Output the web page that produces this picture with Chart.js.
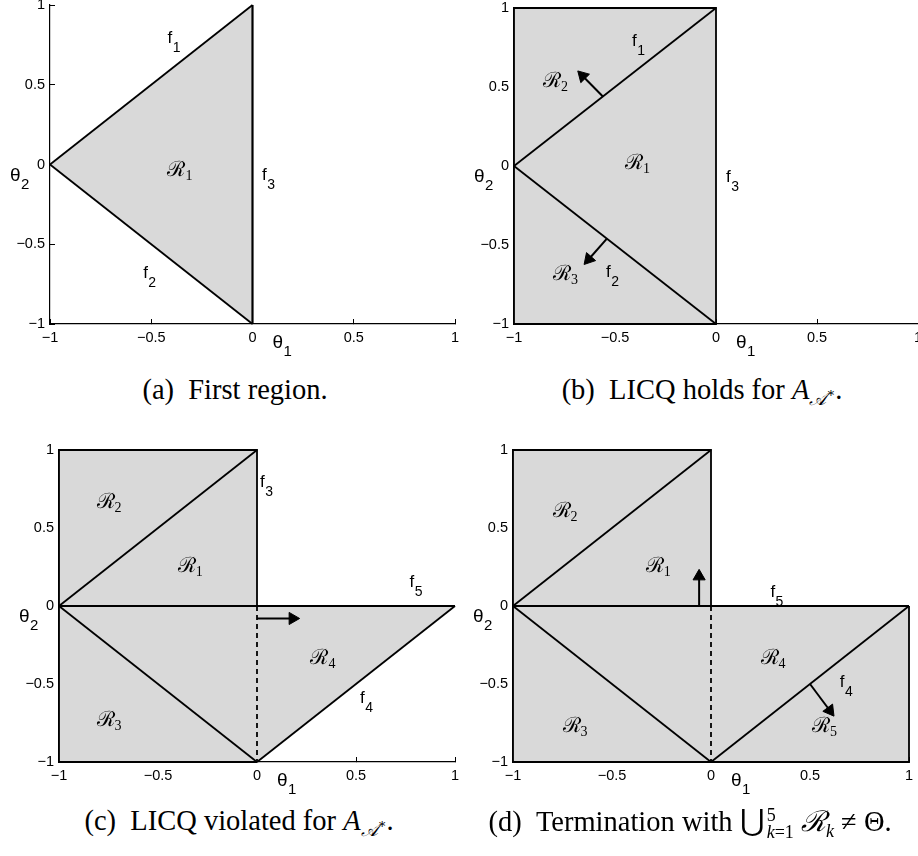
<!DOCTYPE html>
<html>
<head>
<meta charset="utf-8">
<title>Regions in the parameter space</title>
<script src="https://cdn.jsdelivr.net/npm/chart.js@4.4.1/dist/chart.umd.min.js"></script>
<style>
  html, body { margin: 0; padding: 0; background: #fff; }
  body { width: 918px; height: 856px; overflow: hidden; position: relative; }
  canvas.panel { position: absolute; }
  .cap {
    position: absolute; white-space: nowrap; color: #000;
    font-family: "Liberation Serif", "DejaVu Serif", serif; font-size: 28.5px; line-height: 30px;
    transform: translateX(-50%);
  }
  .cap i { font-style: italic; }
  .cap .sub { font-size: 18px; position: relative; top: 6px; }
  .cap .sub .sup { font-size: 13px; position: relative; top: -8px; }
  .cap .scr { font-family: "DejaVu Serif", serif; font-style: italic; }
  .cap .cup { font-family: "DejaVu Serif", serif; font-size: 30px; }
  .cap .lim { display: inline-block; vertical-align: middle; font-size: 18px; line-height: 17px; margin-left: 2px; }
  .cap .lim span { display: block; }
</style>
</head>
<body>
<canvas id="chartA" class="panel"></canvas>
<canvas id="chartB" class="panel"></canvas>
<canvas id="chartC" class="panel"></canvas>
<canvas id="chartD" class="panel"></canvas>

<div class="cap" style="left:235px; top:375px">(a)&ensp;First region.</div>
<div class="cap" style="left:702px; top:375px">(b)&ensp;LICQ holds for <i>A</i><span class="sub"><span class="scr">𝒜</span><span class="sup">∗</span></span>.</div>
<div class="cap" style="left:239px; top:806px">(c)&ensp;LICQ violated for <i>A</i><span class="sub"><span class="scr">𝒜</span><span class="sup">∗</span></span>.</div>
<div class="cap" style="left:690px; top:806px">(d)&ensp;Termination with <span class="cup">⋃</span><span class="lim"><span>5</span><span><i>k</i>=1</span></span> <span class="scr">ℛ</span><span class="sub"><i>k</i></span> ≠ Θ.</div>

<script>
// ejes
const tickValues = [-1, -0.5, 0, 0.5, 1];
const tickLabels = ['\u22121', '\u22120.5', '0', '0.5', '1'];

// facetas (vertices theta1, theta2)
const facetF1 = [[-1, 0], [0, 1]];
const facetF2 = [[-1, 0], [0, -1]];
const facetF3 = [[0, -1], [0, 1]];
const facetF4 = [[0, -1], [1, 0]];
const facetF5 = [[-1, 0], [1, 0]];
const facetF3Dashed = [[0, 0], [0, -1]];

// bordes de las regiones
const outlineB = [[-1, -1], [-1, 1], [0, 1], [0, -1], [-1, -1]];
const outlineUpper = [[-1, -1], [-1, 1], [0, 1], [0, 0]];
const outlineBottomC = [[-1, -1], [0, -1]];
const outlineRightD = [[1, 0], [1, -1], [-1, -1]];

// zonas sombreadas
const shadeTopB = [[-1, 1], [0, 1]];
const shadeUpper = [[-1, 1], [0, 1], [0, 0], [1, 0]];
const shadeLowerC = [[-1, -1], [0, -1], [1, 0]];

// flechas (inicio, centro de la punta)
const arrowB1 = [[-0.56, 0.44], [-0.66, 0.57]];
const arrowB2 = [[-0.54, -0.46], [-0.63, -0.59]];
const arrowC = [[0.0, -0.08], [0.18, -0.08]];
const arrowD1 = [[-0.06, 0], [-0.06, 0.19]];
const arrowD2 = [[0.5, -0.5], [0.6, -0.67]];

// etiquetas: tipo, subindice, theta1, theta2
const notesA = [['f', '1', -0.42, 0.76], ['f', '2', -0.54, -0.71], ['f', '3', 0.047, -0.10], ['R', '1', -0.42, -0.07]];
const notesB = [['f', '1', -0.416, 0.76], ['R', '2', -0.856, 0.50], ['R', '1', -0.45, -0.02],
                ['f', '3', 0.05, -0.10], ['R', '3', -0.807, -0.72], ['f', '2', -0.545, -0.705]];
const notesC = [['f', '3', 0.015, 0.76], ['R', '2', -0.81, 0.63], ['R', '1', -0.40, 0.22], ['f', '5', 0.77, 0.12],
                ['R', '4', 0.27, -0.37], ['f', '4', 0.52, -0.62], ['R', '3', -0.81, -0.77]];
const notesD = [['R', '2', -0.80, 0.57], ['R', '1', -0.33, 0.22], ['f', '5', 0.30, 0.06], ['R', '4', 0.25, -0.37],
                ['f', '4', 0.65, -0.52], ['R', '5', 0.51, -0.81], ['R', '3', -0.75, -0.81]];

const SHADE = '#d9d9d9';
const pts = arr => arr.map(([x, y]) => ({ x, y }));

function edge(arr, extra) {
    return Object.assign({
        data: pts(arr), borderColor: '#000', borderWidth: 1.8, pointRadius: 0,
        fill: false, order: 0, clip: false
    }, extra || {});
}

function region(arr, fill) {
    return {
        data: pts(arr), borderWidth: 0, borderColor: 'rgba(0,0,0,0)', pointRadius: 0,
        backgroundColor: SHADE, fill: fill, order: 5, clip: false
    };
}

// rotacion de la punta segun la direccion en pixeles
function arrowRotation(c) {
    const d = c.chart.data.datasets[c.datasetIndex].data;
    const xs = c.chart.scales.x, ys = c.chart.scales.y;
    const dx = xs.getPixelForValue(d[1].x) - xs.getPixelForValue(d[0].x);
    const dy = ys.getPixelForValue(d[1].y) - ys.getPixelForValue(d[0].y);
    return Math.atan2(dx, -dy) * 180 / Math.PI;
}

function arrow(arr) {
    return {
        data: pts(arr), borderColor: '#000', borderWidth: 2, fill: false, order: 0, clip: false,
        pointStyle: 'triangle', pointRadius: c => c.dataIndex === 1 ? 7 : 0,
        pointBackgroundColor: '#000', pointBorderColor: '#000', pointBorderWidth: 1,
        pointRotation: arrowRotation
    };
}

const textStyles = {
    f: { main: 'f', font: '17px "Liberation Sans"', sub: '14px "Liberation Sans"', dx: 0.5, dy: 9 },
    R: { main: '\u211B', font: '21px "DejaVu Serif"', sub: '14px "Liberation Serif"', dx: 0, dy: 4 },
    t: { main: '\u03B8', font: '19px "Liberation Sans"', sub: '15px "Liberation Sans"', dx: 0.5, dy: 8 }
};

function drawLabel(ctx, kind, sub, px, py) {
    const st = textStyles[kind];
    ctx.font = st.font;
    ctx.fillText(st.main, px, py);
    const w = ctx.measureText(st.main).width;
    ctx.font = st.sub;
    ctx.fillText(sub, px + w + st.dx, py + st.dy);
}

function labelPlugin(notes) {
    return {
        id: 'panelLabels',
        afterDatasetsDraw(chart) {
            const { ctx, chartArea } = chart;
            const xs = chart.scales.x, ys = chart.scales.y;
            ctx.save();
            ctx.fillStyle = '#000';
            ctx.textAlign = 'left';
            ctx.textBaseline = 'alphabetic';
            notes.forEach(([kind, sub, tx, ty]) => {
                drawLabel(ctx, kind, sub, xs.getPixelForValue(tx), ys.getPixelForValue(ty));
            });
            drawLabel(ctx, 't', '1', xs.getPixelForValue(0) + 20, chartArea.bottom + 24);
            drawLabel(ctx, 't', '2', chartArea.left - 40, ys.getPixelForValue(0) + 16);
            ctx.restore();
        }
    };
}

function axis(pos, size) {
    return {
        type: 'linear', position: pos, min: -1, max: 1,
        afterBuildTicks: s => { s.ticks = tickValues.map(v => ({ value: v })); },
        afterFit: s => {
            if (pos === 'bottom') { s.height = size; s.paddingLeft = 0; s.paddingRight = 0; }
            else { s.width = size; s.paddingTop = 0; s.paddingBottom = 0; }
        },
        ticks: {
            autoSkip: false, maxRotation: 0, padding: 10, color: '#000',
            font: { family: '"Liberation Sans", Arial, sans-serif', size: 14.5 },
            callback: (v, i) => tickLabels[i]
        },
        grid: { drawOnChartArea: false, tickLength: -5, color: '#000', tickColor: '#000', lineWidth: 1 },
        border: { display: true, color: '#000', width: 1.2 }
    };
}

// caja de cada panel: posicion del canvas y area de trazado en la pagina
function makePanel(id, box, datasets, notes) {
    const cv = document.getElementById(id);
    cv.width = box.w; cv.height = box.h;
    cv.style.left = box.left + 'px'; cv.style.top = box.top + 'px';
    cv.style.width = box.w + 'px'; cv.style.height = box.h + 'px';
    const [pl, pt, pr, pb] = box.plot;
    return new Chart(cv, {
        type: 'line',
        data: { datasets },
        options: {
            responsive: false, animation: false, events: [], devicePixelRatio: 1,
            layout: { padding: { left: 0, top: pt - box.top, right: box.left + box.w - pr, bottom: 0 } },
            elements: { line: { tension: 0 } },
            plugins: { legend: { display: false }, tooltip: { enabled: false } },
            scales: {
                x: axis('bottom', box.top + box.h - pb),
                y: axis('left', pl - box.left)
            }
        },
        plugins: [labelPlugin(notes)]
    });
}

document.addEventListener('DOMContentLoaded', () => {
    makePanel('chartA', { left: 0, top: 0, w: 470, h: 365, plot: [50, 5, 455, 324] }, [
        region(facetF1, 1), region(facetF2, false),
        edge(facetF1), edge(facetF2), edge(facetF3, { borderWidth: 2.2 })
    ], notesA);

    makePanel('chartB', { left: 464, top: 0, w: 470, h: 365, plot: [514, 5, 918, 324] }, [
        region(shadeTopB, 'start'),
        edge(outlineB), edge(facetF1), edge(facetF2),
        arrow(arrowB1), arrow(arrowB2)
    ], notesB);

    makePanel('chartC', { left: 0, top: 420, w: 470, h: 380, plot: [59, 450, 455, 762] }, [
        region(shadeUpper, 1), region(shadeLowerC, false),
        edge(outlineUpper), edge(outlineBottomC), edge(facetF1), edge(facetF2),
        edge(facetF5), edge(facetF4), edge(facetF3Dashed, { borderDash: [5, 4] }),
        arrow(arrowC)
    ], notesC);

    makePanel('chartD', { left: 464, top: 420, w: 470, h: 380, plot: [513, 450, 909, 762] }, [
        region(shadeUpper, 'start'),
        edge(outlineUpper), edge(outlineRightD), edge(facetF1), edge(facetF2),
        edge(facetF5), edge(facetF4), edge(facetF3Dashed, { borderDash: [5, 4] }),
        arrow(arrowD1), arrow(arrowD2)
    ], notesD);
});
</script>
</body>
</html>
